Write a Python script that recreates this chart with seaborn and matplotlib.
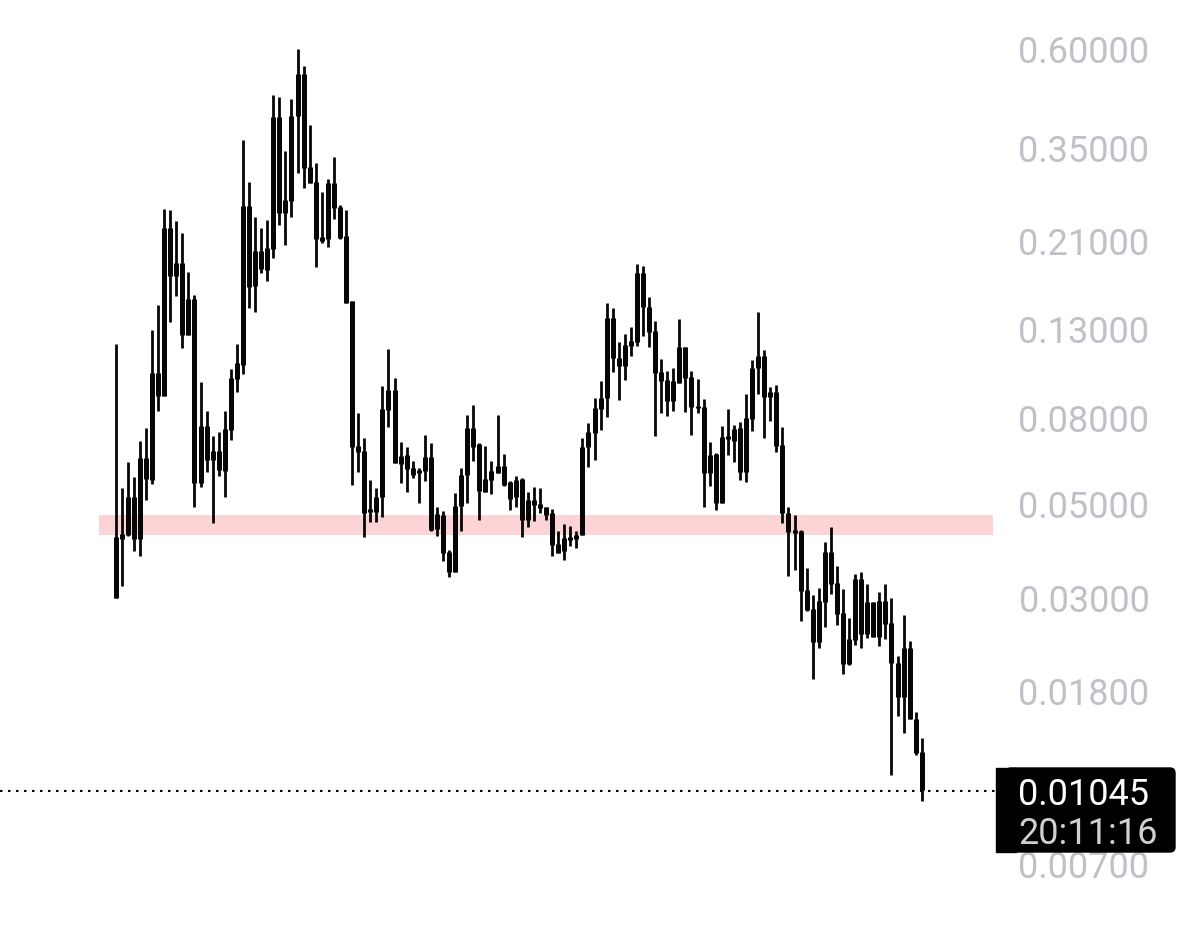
import numpy as np
import pandas as pd
import seaborn as sns
import matplotlib.pyplot as plt
from matplotlib.patches import FancyBboxPatch, Rectangle

# prices are kept in units of 0.00001, the last decimal shown on the axis
high = [11979, 5456, 6289, 5794, 7053, 7572, 12931, 14823, 25041, 24904, 23452, 21964, 17751, 15655, 9734, 8308, 7248, 7408, 8308, 10451, 11979, 36501, 29019, 23970, 22572, 23581, 46671, 46164, 34373, 45662, 60000, 54680, 39617, 32192, 27477, 29499, 33265, 25594, 24904, 15151, 8218, 7169, 5700, 5456, 9524, 11657, 9949, 7014, 6825, 6323, 6086, 7288, 6976, 4918, 4812, 3889, 5309, 6086, 8129, 8585, 6976, 6863, 6323, 8129, 6569, 5669, 5826, 5762, 5338, 5486, 5456, 4918, 4865, 4314, 4482, 4434, 4314, 7169, 7781, 8920, 9788, 14986, 14582, 12111, 12652, 13145, 18543, 18342, 15485, 13583, 11037, 10337, 10508, 13732, 11785, 10337, 9895, 8871, 7014, 6605, 7655, 8400, 7697, 7824, 9117, 10977, 14267, 11593, 9472, 9576, 7613, 4918, 4708, 4338, 3525, 3041, 3160, 4063, 4409, 3563, 3143, 2682, 3411, 3449, 3230, 2927, 3092, 3230, 2992, 2180, 2727, 2366, 1605, 1393]
body_top = [4175, 4244, 5194, 5194, 6427, 6427, 10225, 10225, 22572, 22572, 18645, 18645, 15317, 15317, 7655, 7655, 6678, 6678, 7530, 9949, 10799, 25454, 25454, 19908, 19908, 20237, 41387, 41387, 26302, 41613, 52342, 52342, 31497, 29019, 21490, 28861, 28861, 25316, 21607, 15151, 6863, 6678, 4865, 5194, 8400, 9318, 9318, 6498, 6534, 6086, 6020, 6463, 6463, 4734, 4708, 3847, 4945, 5858, 7572, 7572, 6938, 5731, 5987, 6153, 6153, 5638, 5700, 5731, 5110, 5110, 5000, 4918, 4760, 4018, 4152, 4175, 4221, 6825, 7408, 8446, 8920, 13807, 13807, 11098, 11914, 12177, 17654, 17654, 14662, 12861, 10281, 9841, 9788, 11785, 11785, 10004, 8538, 8492, 6534, 6569, 7209, 7248, 7530, 7572, 7997, 10508, 11219, 11219, 9217, 9217, 6900, 4760, 4338, 4314, 3126, 2818, 2943, 3847, 3847, 3247, 2757, 2392, 3319, 3319, 2927, 2927, 2943, 2943, 2610, 2098, 2277, 2277, 1545, 1290]
body_bot = [2992, 4130, 4221, 4130, 4130, 5731, 5700, 9018, 9018, 17367, 17367, 12583, 12583, 5607, 5607, 6358, 6358, 6020, 5987, 7489, 9895, 10681, 16354, 16444, 18044, 17946, 20126, 24499, 24499, 26159, 41613, 31325, 28861, 21256, 21025, 21256, 25178, 21373, 14986, 6825, 6642, 4760, 4786, 4786, 5194, 8354, 6254, 6220, 6053, 5858, 5922, 5987, 4338, 4361, 3826, 3449, 3449, 4945, 5858, 6825, 5367, 5338, 5700, 5922, 5546, 5138, 5194, 4581, 4581, 4972, 4891, 4708, 3997, 3826, 3868, 4107, 4130, 4221, 6825, 7368, 8400, 8920, 11098, 10623, 10623, 11849, 12111, 14662, 12791, 10225, 9788, 8775, 8775, 9681, 9949, 8492, 8446, 5922, 5922, 5027, 5027, 7130, 7053, 5954, 5954, 7953, 10508, 8969, 8969, 6863, 4760, 4291, 4267, 3109, 2802, 2353, 2353, 2927, 3230, 2742, 2087, 2087, 2379, 2458, 2458, 2418, 2418, 2596, 2098, 1742, 1742, 1545, 1283, 1048]
low = [2992, 3195, 4198, 3868, 3763, 5110, 5577, 8308, 9018, 13509, 15570, 11721, 12583, 4918, 5486, 5954, 4507, 5826, 5194, 7091, 9217, 10169, 14582, 14267, 17654, 16899, 19161, 22945, 20571, 23970, 30481, 28084, 28861, 18242, 20797, 20348, 23710, 21256, 14986, 5546, 5954, 4175, 4531, 4531, 4657, 7613, 6254, 5607, 5338, 5762, 5027, 5669, 4314, 4198, 3662, 3356, 3449, 4314, 5027, 6323, 4581, 5338, 5280, 5922, 5516, 4838, 4918, 4175, 4409, 4556, 4760, 4581, 3763, 3826, 3682, 3975, 3932, 4221, 6119, 6358, 7489, 8041, 10281, 8823, 9841, 11219, 11849, 12514, 11785, 7248, 8218, 8085, 8308, 9681, 8263, 7288, 8218, 4918, 5516, 4838, 5027, 6534, 6289, 5700, 5638, 7449, 9117, 7169, 7867, 6642, 4507, 3374, 3486, 2639, 2787, 1922, 2277, 2554, 3058, 2582, 1976, 2075, 2315, 2277, 2405, 2418, 2302, 2392, 1138, 1571, 1431, 1545, 1269, 987]

tick_values = [0.6, 0.35, 0.21, 0.13, 0.08, 0.05, 0.03, 0.018, 0.007]
tick_labels = ['0.60000', '0.35000', '0.21000', '0.13000', '0.08000', '0.05000', '0.03000', '0.01800', '0.00700']
last_price = 0.01045
last_label = '0.01045'
countdown = '20:11:16'
zone = [0.04221, 0.04708]

sns.set_theme(style='white')
plt.rcParams['font.family'] = ['Roboto', 'DejaVu Sans']

fig = plt.figure(figsize=(12, 9.35), dpi=100)
ax = fig.add_axes([0, 0, 1, 1])
ax.set_yscale('log')
ax.set_ylim(0.004750, 0.7841)
ax.set_xlim(-19.09, 178.9)

ax.fill_between([-2.76, 144.8], zone[0], zone[1], color='#fdd4d5', lw=0, zorder=1)


def segments(first, second):
    # one two-point line per candle, so seaborn draws them as separate strokes
    candles = np.arange(len(first))
    df = pd.DataFrame({'candle': np.tile(candles, 2), 'price': np.r_[first, second] * 1e-5})
    return df.sort_values('candle', kind='stable')


sns.lineplot(data=segments(high, low), x='candle', y='price', units='candle', estimator=None,
             sort=False, color='#060606', lw=2.0, solid_capstyle='butt', ax=ax, zorder=3)
sns.lineplot(data=segments(body_top, body_bot), x='candle', y='price', units='candle', estimator=None,
             sort=False, color='#060606', lw=3.6, solid_capstyle='butt', ax=ax, zorder=3)
ax.set_axis_off()

ax.plot([-19.09, 145.4], [last_price, last_price], color='black', lw=1.5, ls=(0, (1.2, 2.64)), zorder=2)

for v, l in zip(tick_values, tick_labels):
    ax.text(1084 / 1200, v, l, transform=ax.get_yaxis_transform(), ha='center', va='center_baseline',
            fontsize=26, color='#c0c0c8')

# price tag on the right, square on the left and slightly rounded on the right
fig.add_artist(Rectangle((9.96, 0.83), 0.2, 0.84, transform=fig.dpi_scale_trans, color='black', zorder=5))
fig.add_artist(FancyBboxPatch((10.06, 0.83), 1.69, 0.84, boxstyle='round,pad=0,rounding_size=0.05',
                              transform=fig.dpi_scale_trans, color='black', zorder=5))
fig.text(1084 / 1200, 1 - 791 / 935, last_label, ha='center', va='center_baseline', fontsize=26, color='white', zorder=6)
fig.text(1088 / 1200, 1 - 830 / 935, countdown, ha='center', va='center_baseline', fontsize=26, color='#d0d0d0', zorder=6)

fig.savefig('out.png', dpi=100)
